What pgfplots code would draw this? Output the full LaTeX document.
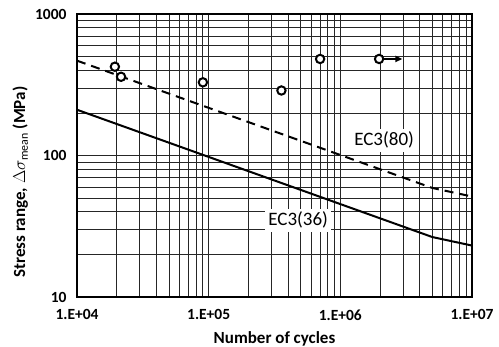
\documentclass[border=0pt]{standalone}
\usepackage{fontspec}
\setmainfont{Carlito}
\usepackage{pgfplots}
\pgfplotsset{compat=1.18}
\usetikzlibrary{arrows.meta}
\begin{document}
\begin{tikzpicture}
\useasboundingbox (-77pt,-50pt) rectangle (422pt,297pt);
\begin{axis}[
  at={(0,0)}, anchor=south west, scale only axis,
  width=395pt, height=283pt,
  xmode=log, ymode=log,
  xmin=1e4, xmax=1e7, ymin=10, ymax=1000,
  xtick={1e4,1e5,1e6,1e7},
  xticklabels={1.E+04,1.E+05,1.E+06,1.E+07},
  ytick={10,100,1000},
  yticklabels={10,100,1000},
  minor xtick={2e4,3e4,4e4,5e4,6e4,7e4,8e4,9e4,2e5,3e5,4e5,5e5,6e5,7e5,8e5,9e5,2e6,3e6,4e6,5e6,6e6,7e6,8e6,9e6},
  minor ytick={20,30,40,50,60,70,80,90,200,300,400,500,600,700,800,900},
  grid=both,
  major grid style={black!85, line width=0.7pt},
  minor grid style={black!85, line width=0.7pt},
  major tick length=0pt, minor tick length=0pt,
  axis line style={black, line width=1.3pt},
  tick label style={font=\fontsize{15.5}{17}\selectfont\bfseries},
  xticklabel style={yshift=-9pt},
  yticklabel style={xshift=-7pt},
  xlabel={Number of cycles},
  ylabel={Stress range, $\Delta\sigma_{\mathrm{mean}}$ (MPa)},
  label style={font=\fontsize{17}{19}\selectfont\bfseries},
  xlabel style={at={(axis description cs:0.5,0)}, anchor=center, yshift=-42pt},
  ylabel style={at={(axis description cs:-0.1435,0.406)}, anchor=center},
]
\addplot[black, line width=2pt, dash pattern=on 9pt off 6pt] coordinates {(1e4,467.8) (5e6,58.94) (1e7,51.3)};
\addplot[black, line width=2pt] coordinates {(1e4,210.5) (5e6,26.52) (1e7,23.09)};
\addplot[black, line width=2pt, -{Triangle[length=7pt,width=6pt]}] coordinates {(1.97e6,481) (2.96e6,481)};
\addplot[only marks, mark=*, mark size=4.2pt, mark options={fill=white, draw=black, line width=2pt}]
  coordinates {(1.94e4,424) (2.16e4,360) (9.04e4,329) (3.57e5,288) (7.02e5,481) (1.97e6,481)};
\node[fill=white, inner sep=3pt, font=\fontsize{19}{21}\selectfont] at (axis cs:2.15e6,128) {EC3(80)};
\node[fill=white, inner sep=3pt, font=\fontsize{19}{21}\selectfont] at (axis cs:4.78e5,34.8) {EC3(36)};
\end{axis}
\end{tikzpicture}
\end{document}
